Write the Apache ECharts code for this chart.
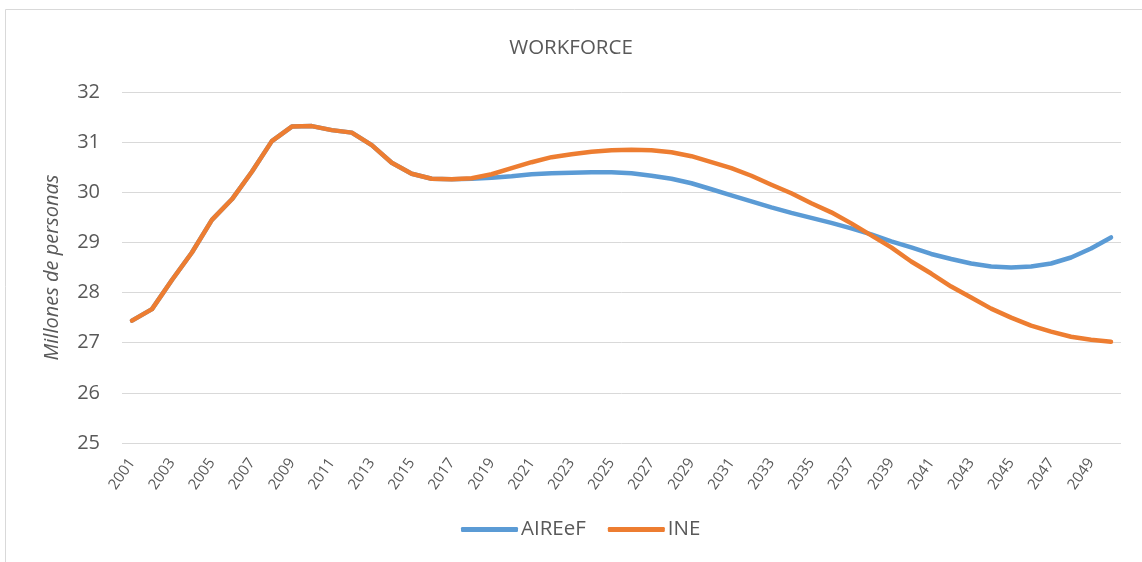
<!DOCTYPE html>
<html>
<head>
<meta charset="utf-8">
<title>WORKFORCE</title>
<script src="https://cdn.jsdelivr.net/npm/echarts@6/dist/echarts.min.js"></script>
<style>
	html, body { margin: 0; padding: 0; background: #fff; }
	#main { width: 1142px; height: 562px; }
</style>
</head>
<body>
<div id="main"></div>
<script>
// datos
var years = [];
for (var y = 2001; y <= 2050; y++) years.push(String(y));

var aireef = [
	27.44, 27.67, 28.25, 28.80, 29.45, 29.86, 30.41, 31.02, 31.31, 31.32,
	31.24, 31.19, 30.94, 30.59, 30.37, 30.27, 30.26, 30.27, 30.29, 30.32,
	30.36, 30.38, 30.39, 30.40, 30.40, 30.38, 30.33, 30.27, 30.18, 30.06,
	29.94, 29.82, 29.70, 29.59, 29.49, 29.39, 29.28, 29.16, 29.02, 28.90,
	28.77, 28.67, 28.58, 28.52, 28.50, 28.52, 28.58, 28.70, 28.88, 29.10
];

var ine = [
	27.44, 27.67, 28.25, 28.80, 29.45, 29.86, 30.41, 31.02, 31.31, 31.32,
	31.24, 31.19, 30.94, 30.59, 30.37, 30.27, 30.26, 30.28, 30.36, 30.48,
	30.60, 30.70, 30.76, 30.81, 30.84, 30.85, 30.84, 30.80, 30.72, 30.60,
	30.48, 30.33, 30.15, 29.98, 29.78, 29.60, 29.38, 29.14, 28.90, 28.62,
	28.38, 28.12, 27.90, 27.68, 27.50, 27.34, 27.22, 27.12, 27.06, 27.02
];

var chart = echarts.init(document.getElementById('main'));

var font = '"Open Sans", sans-serif';
var grey = '#595959';

var option = {
	backgroundColor: '#fff',
	color: ['#5B9BD5', '#ED7D31'],
	animation: false,
	title: {
		text: 'WORKFORCE',
		left: 'center',
		top: 33,
		textStyle: {
			color: grey,
			fontFamily: font,
			fontSize: 20.5,
			fontWeight: 'normal'
		}
	},
	legend: {
		bottom: 17,
		left: 456,
		icon: 'roundRect',
		itemWidth: 57,
		itemHeight: 5,
		itemGap: 22,
		textStyle: {
			color: grey,
			fontFamily: font,
			fontSize: 20.5,
			padding: [0, 0, 0, -2]
		},
		data: ['AIREeF', 'INE']
	},
	graphic: [{
		type: 'rect',
		shape: { x: 5.5, y: 9.5, width: 1300, height: 700 },
		style: { fill: 'none', stroke: '#d9d9d9', lineWidth: 1 },
		silent: true
	}],
	grid: {
		left: 122,
		right: 21,
		top: 92,
		bottom: 119
	},
	xAxis: {
		type: 'category',
		data: years,
		boundaryGap: true,
		axisLine: { show: false },
		axisTick: { show: false },
		axisLabel: {
			interval: 1,
			rotate: 55,
			margin: 17,
			color: grey,
			fontFamily: font,
			fontSize: 15
		}
	},
	yAxis: {
		type: 'value',
		min: 25,
		max: 32,
		interval: 1,
		name: 'Millones de personas',
		nameLocation: 'middle',
		nameGap: 60,
		nameTextStyle: {
			color: grey,
			fontFamily: font,
			fontSize: 20,
			fontStyle: 'italic'
		},
		axisLine: { show: false },
		axisTick: { show: false },
		axisLabel: {
			margin: 22,
			color: grey,
			fontFamily: font,
			fontSize: 20
		},
		splitLine: {
			lineStyle: { color: '#d9d9d9', width: 1 }
		}
	},
	series: [{
		name: 'AIREeF',
		type: 'line',
		data: aireef,
		symbol: 'none',
		lineStyle: { width: 4.5, cap: 'round', join: 'round' }
	}, {
		name: 'INE',
		type: 'line',
		data: ine,
		symbol: 'none',
		lineStyle: { width: 4.5, cap: 'round', join: 'round' }
	}]
};

chart.setOption(option);
</script>
</body>
</html>
